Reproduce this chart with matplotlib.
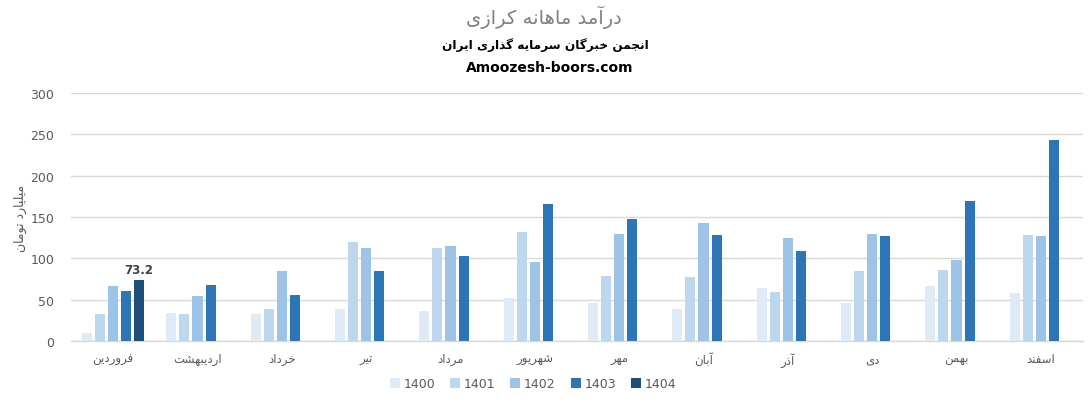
import numpy as np
import matplotlib
matplotlib.use("Agg")
import matplotlib.pyplot as plt
from matplotlib.patches import Patch

# ---------------- data ----------------
months = ["فروردین", "اردیبهشت", "خرداد", "تیر", "مرداد", "شهریور",
          "مهر", "آبان", "آذر", "دی", "بهمن", "اسفند"]
years = ["1400", "1401", "1402", "1403", "1404"]
v1400 = [10.1, 34.3, 33.0, 39.1, 36.7, 52.4, 46.4, 39.1, 64.5, 46.4, 67.0, 58.5]
v1401 = [33.0, 33.0, 39.1, 120.2, 112.9, 132.3, 79.0, 77.8, 59.7, 85.1, 86.3, 128.6]
v1402 = [67.0, 54.8, 85.1, 112.9, 115.3, 96.0, 129.8, 143.2, 125.0, 129.8, 98.4, 127.4]
v1403 = [60.0, 68.1, 56.0, 85.1, 103.2, 166.1, 148.0, 128.6, 109.3, 127.4, 169.8, 243.6]
v1404 = [73.2] + [np.nan] * 11
title = "درآمد ماهانه کرازی"
subtitle = "انجمن خبرگان سرمایه گذاری ایران"
site = "Amoozesh-boors.com"
ylabel = "میلیارد تومان"

# ------------- simple Persian shaping (matplotlib has no CTL) -------------
FORMS = {
    'ا': ('\uFE8D', '\uFE8E', None, None), 'آ': ('\uFE81', '\uFE82', None, None),
    'ب': ('\uFE8F', '\uFE90', '\uFE91', '\uFE92'), 'پ': ('\uFB56', '\uFB57', '\uFB58', '\uFB59'),
    'ت': ('\uFE95', '\uFE96', '\uFE97', '\uFE98'), 'ث': ('\uFE99', '\uFE9A', '\uFE9B', '\uFE9C'),
    'ج': ('\uFE9D', '\uFE9E', '\uFE9F', '\uFEA0'), 'چ': ('\uFB7A', '\uFB7B', '\uFB7C', '\uFB7D'),
    'ح': ('\uFEA1', '\uFEA2', '\uFEA3', '\uFEA4'), 'خ': ('\uFEA5', '\uFEA6', '\uFEA7', '\uFEA8'),
    'د': ('\uFEA9', '\uFEAA', None, None), 'ذ': ('\uFEAB', '\uFEAC', None, None),
    'ر': ('\uFEAD', '\uFEAE', None, None), 'ز': ('\uFEAF', '\uFEB0', None, None),
    'ژ': ('\uFB8A', '\uFB8B', None, None),
    'س': ('\uFEB1', '\uFEB2', '\uFEB3', '\uFEB4'), 'ش': ('\uFEB5', '\uFEB6', '\uFEB7', '\uFEB8'),
    'ص': ('\uFEB9', '\uFEBA', '\uFEBB', '\uFEBC'), 'ض': ('\uFEBD', '\uFEBE', '\uFEBF', '\uFEC0'),
    'ط': ('\uFEC1', '\uFEC2', '\uFEC3', '\uFEC4'), 'ظ': ('\uFEC5', '\uFEC6', '\uFEC7', '\uFEC8'),
    'ع': ('\uFEC9', '\uFECA', '\uFECB', '\uFECC'), 'غ': ('\uFECD', '\uFECE', '\uFECF', '\uFED0'),
    'ف': ('\uFED1', '\uFED2', '\uFED3', '\uFED4'), 'ق': ('\uFED5', '\uFED6', '\uFED7', '\uFED8'),
    'ک': ('\uFB8E', '\uFB8F', '\uFB90', '\uFB91'), 'گ': ('\uFB92', '\uFB93', '\uFB94', '\uFB95'),
    'ل': ('\uFEDD', '\uFEDE', '\uFEDF', '\uFEE0'), 'م': ('\uFEE1', '\uFEE2', '\uFEE3', '\uFEE4'),
    'ن': ('\uFEE5', '\uFEE6', '\uFEE7', '\uFEE8'), 'و': ('\uFEED', '\uFEEE', None, None),
    'ه': ('\uFEE9', '\uFEEA', '\uFEEB', '\uFEEC'), 'ی': ('\uFBFC', '\uFBFD', '\uFBFE', '\uFBFF'),
}


def shape(text):
    out = []
    n = len(text)
    for i, ch in enumerate(text):
        if ch not in FORMS:
            out.append(ch)
            continue
        prev = text[i - 1] if i > 0 else ''
        nxt = text[i + 1] if i < n - 1 else ''
        jp = prev in FORMS and FORMS[prev][2] is not None
        jn = FORMS[ch][2] is not None and nxt in FORMS
        iso, fin, ini, med = FORMS[ch]
        if jp and jn:
            out.append(med)
        elif jp:
            out.append(fin)
        elif jn:
            out.append(ini)
        else:
            out.append(iso)
    return ''.join(out)[::-1]


# ---------------- figure ----------------
plt.rcParams['font.family'] = ['DejaVu Sans']
fig = plt.figure(figsize=(10.88, 4.06), dpi=100)
ax = fig.add_axes([71 / 1088, 64 / 406, 1012 / 1088, 248 / 406])

colors = ["#DEEBF7", "#BDD7EE", "#9DC3E6", "#2E75B6", "#1F4E79"]
series = [v1400, v1401, v1402, v1403, v1404]
x = np.arange(len(months))
pitch = 13 / 84.3
bw = 10 / 84.3
for i, (vals, c) in enumerate(zip(series, colors)):
    ax.bar(x + (i - 2) * pitch, vals, width=bw, color=c, zorder=3)

# data label
ax.text(x[0] + 2 * pitch, v1404[0] + 6, "73.2", ha='center', va='bottom',
        fontsize=8.5, fontweight='bold', color='#404040')

ax.set_xlim(-0.5, len(months) - 0.5)
ax.set_ylim(0, 300)
ax.set_yticks(np.arange(0, 301, 50))
ax.yaxis.grid(True, color='#D9D9D9', linewidth=1, zorder=0)
for s in ['top', 'right', 'left']:
    ax.spines[s].set_visible(False)
ax.spines['bottom'].set_color('#D9D9D9')
ax.spines['bottom'].set_linewidth(1)
ax.tick_params(axis='both', length=0, colors='#595959', labelsize=9)
ax.tick_params(axis='y', pad=12)
ax.tick_params(axis='x', pad=8)
ax.set_xticks(x)
ax.set_xticklabels([shape(m) for m in months], color='#595959', fontsize=8.5)

ax.set_ylabel(shape(ylabel), color='#595959', fontsize=9)
ax.yaxis.set_label_coords((27 - 71) / 1012, 0.5)

fig.text(544 / 1088, 1 - 17 / 406, shape(title), ha='center', va='center',
         fontsize=14, color='#7F7F7F')
fig.text(545 / 1088, 1 - 45 / 406, shape(subtitle), ha='center', va='center',
         fontsize=8.7, fontweight='bold', color='black')
fig.text(550 / 1088, 1 - 68 / 406, site, ha='center', va='center',
         fontsize=10, fontweight='bold', color='black')

handles = [Patch(facecolor=c, edgecolor='none') for c in colors]
leg = fig.legend(handles, years, loc='center', bbox_to_anchor=(533 / 1088, 1 - 385 / 406),
                 ncol=5, frameon=False, fontsize=9, handlelength=0.8, handleheight=0.8,
                 handletextpad=0.3, columnspacing=1.2)
for t in leg.get_texts():
    t.set_color('#595959')

fig.savefig("out.png", dpi=100)
